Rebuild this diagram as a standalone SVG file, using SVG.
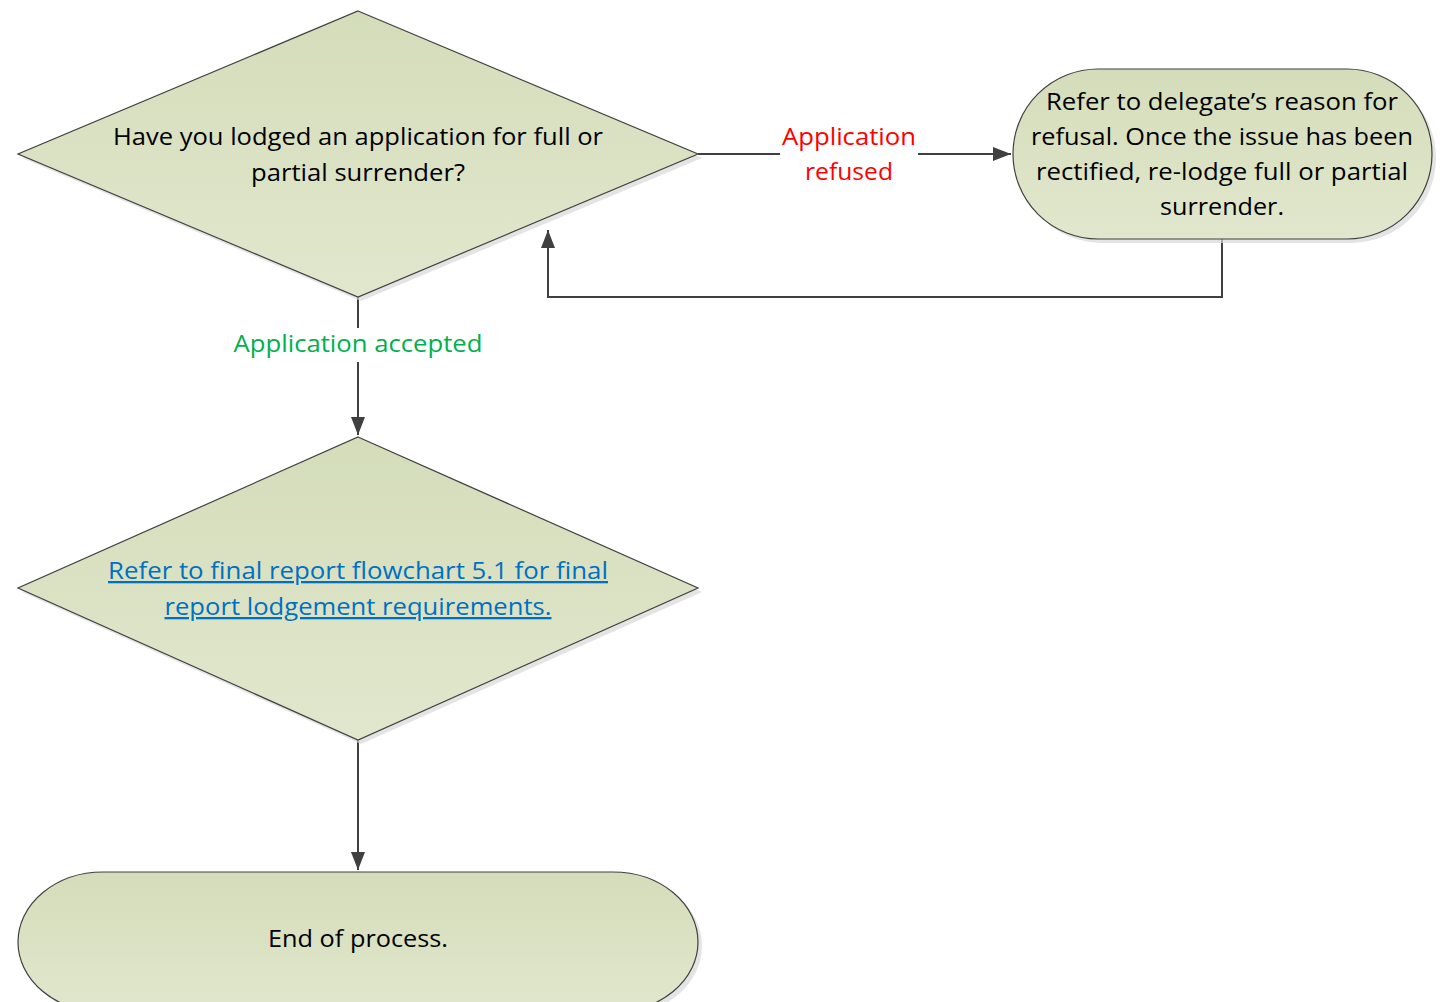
<svg xmlns="http://www.w3.org/2000/svg" width="1445" height="1002" viewBox="0 0 1445 1002">
<style>
.shape{fill:url(#g);stroke:#404040;stroke-width:1.2}
.shadow{fill:#d9d9d9;opacity:0.7}
.t{font-family:"Open Sans","Noto Sans","Liberation Sans",sans-serif;font-size:23px;fill:#000;text-anchor:middle}
.link{fill:#0070c0;text-decoration:underline}
.red{fill:#ff0000}
.green{fill:#00b050}
.conn{fill:none;stroke:#404040;stroke-width:2}
</style>
<defs>
<linearGradient id="g" x1="0" y1="0" x2="0" y2="1">
<stop offset="0" stop-color="#d4ddba"/>
<stop offset="1" stop-color="#e1e7cd"/>
</linearGradient>
<marker id="arr" markerWidth="10" markerHeight="10" refX="9" refY="5" orient="auto" markerUnits="userSpaceOnUse" viewBox="0 0 10 10">
<path d="M0,0 L10,5 L0,10 Z" fill="#404040"/>
</marker>
<marker id="arrow" viewBox="0 0 18 14" refX="18" refY="7" markerWidth="18" markerHeight="14" orient="auto" markerUnits="userSpaceOnUse">
<path d="M0,0 L18,7 L0,14 Z" fill="#404040"/>
</marker>
</defs>
<rect width="1445" height="1002" fill="#fff"/>
<g id="connectors">
<path class="conn" d="M698,154 H1011" marker-end="url(#arrow)"/>
<path class="conn" d="M1222,239 V297 H548 V230" marker-end="url(#arrow)"/>
<path class="conn" d="M358,297 V435" marker-end="url(#arrow)"/>
<path class="conn" d="M358,740 V870" marker-end="url(#arrow)"/>
<rect x="780" y="120" width="138" height="68" fill="#fff"/>
<rect x="230" y="328" width="256" height="34" fill="#fff"/>
<text class="t red" x="849" y="145" textLength="134" lengthAdjust="spacingAndGlyphs">Application</text>
<text class="t red" x="849" y="180" textLength="88" lengthAdjust="spacingAndGlyphs">refused</text>
<text class="t green" x="358" y="352" textLength="249" lengthAdjust="spacingAndGlyphs">Application accepted</text>
</g>
<g id="node-decision1">
<polygon class="shadow" points="361,15 702,158 361,301 22,158"/>
<polygon class="shape" points="358,11 698,154 358,297 18,154"/>
<text class="t" x="358" y="145" textLength="490" lengthAdjust="spacingAndGlyphs">Have you lodged an application for full or</text>
<text class="t" x="358" y="181" textLength="214" lengthAdjust="spacingAndGlyphs">partial surrender?</text>
</g>
<g id="node-refused">
<rect class="shadow" x="1017" y="73" width="419" height="170" rx="85" ry="85"/>
<rect class="shape" x="1013" y="69" width="419" height="170" rx="85" ry="85"/>
<text class="t" x="1222" y="110" textLength="352" lengthAdjust="spacingAndGlyphs">Refer to delegate’s reason for</text>
<text class="t" x="1222" y="145" textLength="382" lengthAdjust="spacingAndGlyphs">refusal. Once the issue has been</text>
<text class="t" x="1222" y="180" textLength="372" lengthAdjust="spacingAndGlyphs">rectified, re-lodge full or partial</text>
<text class="t" x="1222" y="215" textLength="124" lengthAdjust="spacingAndGlyphs">surrender.</text>
</g>
<g id="node-decision2">
<polygon class="shadow" points="361,441 702,592 361,744 22,592"/>
<polygon class="shape" points="358,437 698,588 358,740 18,588"/>
<text class="t link" x="358" y="579" textLength="500" lengthAdjust="spacingAndGlyphs">Refer to final report flowchart 5.1 for final</text>
<text class="t link" x="358" y="615" textLength="387" lengthAdjust="spacingAndGlyphs">report lodgement requirements.</text>
</g>
<g id="node-end">
<rect class="shadow" x="22" y="876" width="680" height="140" rx="85" ry="85"/>
<rect class="shape" x="18" y="872" width="680" height="140" rx="85" ry="85"/>
<text class="t" x="358" y="947" textLength="180" lengthAdjust="spacingAndGlyphs">End of process.</text>
</g>
</svg>
